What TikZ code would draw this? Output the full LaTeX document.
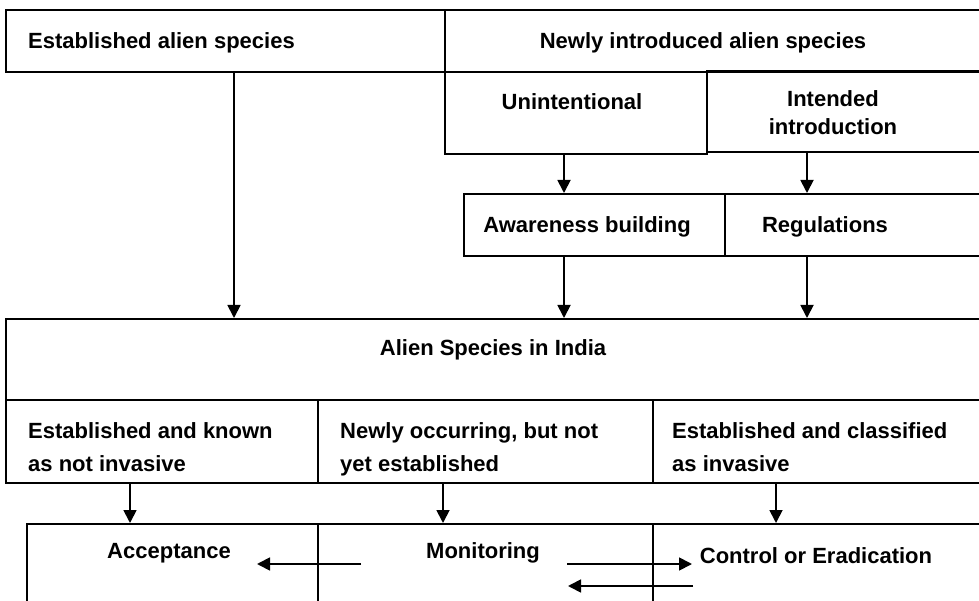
\documentclass[tikz,border=0pt]{standalone}
\usepackage{fontspec}
\setmainfont{Liberation Sans}
\usetikzlibrary{arrows.meta}
\tikzset{box/.style={draw, line width=1.8pt, anchor=north west, inner sep=0pt},
  txt/.style={font=\fontsize{22}{33}\selectfont\bfseries, inner sep=0pt, align=left},
  arr/.style={line width=1.8pt, -{Triangle[width=13pt,length=13pt]}}}

\begin{document}
\begin{tikzpicture}[x=1pt,y=-1pt]
\clip (0,0) rectangle (979,601);
% boxes
\node[box, minimum width=439, minimum height=62] (EA) at (5,9) {};
\node[box, minimum width=560, minimum height=62] (NI) at (444,9) {};
\node[box, minimum width=262, minimum height=82] (UN) at (444,71) {};
\node[box, minimum width=300, minimum height=81] (ID) at (706,70) {};
\node[box, minimum width=261, minimum height=62] (AW) at (463,193) {};
\node[box, minimum width=280, minimum height=62] (RG) at (724,193) {};
\node[box, minimum width=1000, minimum height=81] (AS) at (5,318) {};
\node[box, minimum width=312, minimum height=83] (K1) at (5,399) {};
\node[box, minimum width=335, minimum height=83] (K2) at (317,399) {};
\node[box, minimum width=350, minimum height=83] (K3) at (652,399) {};
\node[box, minimum width=291, minimum height=100] (AC) at (26,523) {};
\node[box, minimum width=335, minimum height=100] (MO) at (317,523) {};
\node[box, minimum width=350, minimum height=100] (CE) at (652,523) {};

% texts
\node[txt, anchor=base west] (tEA) at (28,49) {Established alien species};
\node[txt, anchor=base] (tNI) at (703,49) {Newly introduced alien species};
\node[txt, anchor=base] (tUN) at (572,110) {Unintentional};
\node[txt, align=center, font=\fontsize{22}{28}\selectfont\bfseries] (tID) at (833,113) {Intended\\introduction};
\node[txt, anchor=base] (tAW) at (587,233) {Awareness building};
\node[txt, anchor=base] (tRG) at (825,233) {Regulations};
\node[txt, anchor=base] (tAS) at (493,355) {Alien Species in India};
\node[txt, anchor=west] (tK1) at (28,447) {Established and known\\as not invasive};
\node[txt, anchor=west] (tK2) at (340,449) {Newly occurring, but not\\yet established};
\node[txt, anchor=west] (tK3) at (672,447) {Established and classified\\as invasive};
\node[txt, anchor=base] (tAC) at (169,558) {Acceptance};
\node[txt, anchor=base] (tMO) at (483,558) {Monitoring};
\node[txt, anchor=base] (tCE) at (816,563) {Control or Eradication};

% arrow columns and free ends
\coordinate (c1) at (234,0);
\coordinate (c2) at (564,0);
\coordinate (c3) at (807,0);
\coordinate (c4) at (130,0);
\coordinate (c5) at (443,0);
\coordinate (c6) at (776,0);
\coordinate (m1) at (361,564);
\coordinate (m2) at (257,564);
\coordinate (m3) at (567,564);
\coordinate (m4) at (692,564);
\coordinate (m5) at (693,586);
\coordinate (m6) at (568,586);

\draw[arr] (EA.south -| c1) -- (AS.north -| c1);
\draw[arr] (UN.south -| c2) -- (AW.north -| c2);
\draw[arr] (ID.south -| c3) -- (RG.north -| c3);
\draw[arr] (AW.south -| c2) -- (AS.north -| c2);
\draw[arr] (RG.south -| c3) -- (AS.north -| c3);
\draw[arr] (K1.south -| c4) -- (AC.north -| c4);
\draw[arr] (K2.south -| c5) -- (MO.north -| c5);
\draw[arr] (K3.south -| c6) -- (CE.north -| c6);
\draw[arr] (m1) -- (m2);
\draw[arr] (m3) -- (m4);
\draw[arr] (m5) -- (m6);
\end{tikzpicture}
\end{document}
